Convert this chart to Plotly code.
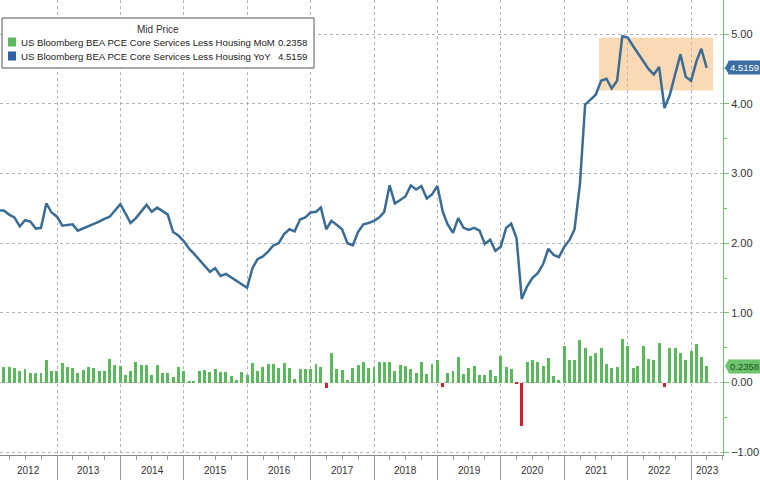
import plotly.graph_objects as go
import pandas as pd

# ---------------- data ----------------
months = pd.date_range("2012-01-01", periods=135, freq="MS") + pd.offsets.MonthEnd(0)

yoy = [
    2.47, 2.47, 2.41, 2.37, 2.24, 2.33, 2.31, 2.21, 2.22, 2.57, 2.44, 2.38,   # 2012
    2.25, 2.26, 2.27, 2.18, 2.21, 2.24, 2.28, 2.31, 2.35, 2.38, 2.47, 2.56,   # 2013
    2.42, 2.29, 2.36, 2.46, 2.55, 2.45, 2.51, 2.46, 2.41, 2.16, 2.11, 2.03,   # 2014
    1.92, 1.85, 1.76, 1.68, 1.59, 1.64, 1.53, 1.56, 1.51, 1.46, 1.41, 1.36,   # 2015
    1.64, 1.77, 1.81, 1.88, 1.97, 2.00, 2.13, 2.20, 2.17, 2.34, 2.37, 2.44,   # 2016
    2.45, 2.51, 2.20, 2.32, 2.26, 2.20, 2.00, 1.97, 2.16, 2.27, 2.29, 2.32,   # 2017
    2.37, 2.45, 2.83, 2.57, 2.62, 2.67, 2.83, 2.77, 2.82, 2.64, 2.70, 2.82,   # 2018
    2.45, 2.27, 2.15, 2.36, 2.22, 2.19, 2.22, 2.18, 1.99, 2.05, 1.89, 1.95,   # 2019
    2.22, 2.28, 2.07, 1.20, 1.38, 1.50, 1.57, 1.70, 1.92, 1.83, 1.80, 1.95,   # 2020
    2.05, 2.20, 2.85, 3.99, 4.06, 4.13, 4.33, 4.36, 4.22, 4.33, 4.97, 4.95,   # 2021
    4.83, 4.72, 4.61, 4.50, 4.42, 4.53, 3.94, 4.13, 4.42, 4.71, 4.39, 4.33,   # 2022
    4.61, 4.79, 4.5159,                                                       # 2023
]

mom = [
    0.40, 0.23, 0.22, 0.21, 0.16, 0.19, 0.13, 0.13, 0.14, 0.32, 0.16, 0.17,   # 2012
    0.28, 0.22, 0.21, 0.13, 0.18, 0.23, 0.21, 0.17, 0.16, 0.34, 0.25, 0.24,   # 2013
    0.11, 0.16, 0.29, 0.25, 0.25, 0.11, 0.25, 0.13, 0.13, 0.08, 0.23, 0.17,   # 2014
    0.01, 0.02, 0.17, 0.18, 0.15, 0.20, 0.15, 0.15, 0.10, 0.03, 0.15, 0.11,   # 2015
    0.28, 0.17, 0.23, 0.26, 0.26, 0.21, 0.28, 0.21, 0.05, 0.19, 0.19, 0.19,   # 2016
    0.26, 0.23, -0.08, 0.42, 0.19, 0.18, 0.04, 0.21, 0.25, 0.30, 0.21, 0.22,  # 2017
    0.30, 0.30, 0.29, 0.16, 0.25, 0.24, 0.20, 0.13, 0.30, 0.12, 0.27, 0.32,   # 2018
    -0.07, 0.14, 0.17, 0.37, 0.12, 0.21, 0.24, 0.11, 0.11, 0.18, 0.09, 0.38,  # 2019
    0.22, 0.19, -0.02, -0.62, 0.29, 0.33, 0.29, 0.24, 0.35, 0.09, 0.03, 0.53, # 2020
    0.33, 0.33, 0.61, 0.49, 0.38, 0.43, 0.49, 0.26, 0.21, 0.22, 0.63, 0.53,   # 2021
    0.21, 0.24, 0.52, 0.34, 0.32, 0.57, -0.07, 0.49, 0.49, 0.42, 0.33, 0.45,  # 2022
    0.56, 0.36, 0.2358,                                                       # 2023
]

year_labels = [str(y) for y in range(2012, 2024)]

legend_title = "Mid Price"
mom_name = "US Bloomberg BEA PCE Core Services Less Housing MoM"
yoy_name = "US Bloomberg BEA PCE Core Services Less Housing YoY"

highlight_x = ["2021-07-19", "2023-05-07"]
highlight_y = [4.19, 4.95]

x_range = ["2012-02-07", "2023-07-03"]
y_range = [-1.04, 5.49]

# ---------------- styles ----------------
GREEN = "#5cb85c"
RED = "#d0202a"
BLUE = "#3b6c95"
AXIS_GREEN = "#72c072"
GRID = "#b5b5b5"
FONT = "Liberation Sans"

bar_colors = [GREEN if v >= 0 else RED for v in mom]

# year label positions: middle of the visible part of each year
r0, r1 = pd.Timestamp(x_range[0]), pd.Timestamp(x_range[1])
label_pos = []
for y in year_labels:
    a = max(pd.Timestamp(f"{y}-01-01"), r0)
    b = min(pd.Timestamp(f"{int(y) + 1}-01-01"), r1)
    label_pos.append(a + (b - a) / 2)

fig = go.Figure()
fig.add_trace(go.Bar(
    x=months, y=mom, marker=dict(color=bar_colors, line=dict(width=0)),
    width=17 * 86400000, name=mom_name, showlegend=False,
))
fig.add_trace(go.Scatter(
    x=months, y=yoy, mode="lines", line=dict(color=BLUE, width=2.5),
    name=yoy_name, showlegend=False,
))

fig.add_shape(type="rect", xref="x", yref="y",
              x0=highlight_x[0], x1=highlight_x[1], y0=highlight_y[0], y1=highlight_y[1],
              fillcolor="rgba(248,186,120,0.55)", line=dict(width=0), layer="below")

# year labels under the axis
for pos, lab in zip(label_pos, year_labels):
    fig.add_annotation(xref="x", yref="paper", x=pos, y=0, yshift=-15, text=lab,
                       showarrow=False, xanchor="center", yanchor="middle",
                       font=dict(family=FONT, size=10, color="#333333"))

# plot-area pixel helpers for decorations
PW, PH = 723.0, 455.0
def px(x):
    return x / PW
def py(y):
    return 1 - y / PH

# custom legend
fig.add_shape(type="rect", xref="paper", yref="paper",
              x0=px(2), x1=px(314), y0=py(68), y1=py(18),
              fillcolor="white", line=dict(color="#555555", width=1), layer="above")
fig.add_annotation(xref="paper", yref="paper", x=px(158), y=py(30), text=legend_title,
                   showarrow=False, xanchor="center", yanchor="middle",
                   font=dict(family=FONT, size=10, color="#333333"))
for row, (name, val, col) in enumerate([(mom_name, mom[-1], GREEN), (yoy_name, yoy[-1], "#2f63a8")]):
    yc = 42 + row * 14
    fig.add_shape(type="rect", xref="paper", yref="paper",
                  x0=px(8), x1=px(16), y0=py(yc + 4.5), y1=py(yc - 4.5),
                  fillcolor=col, line=dict(width=0), layer="above")
    fig.add_annotation(xref="paper", yref="paper", x=px(19), y=py(yc), text=name,
                       showarrow=False, xanchor="left", yanchor="middle",
                       font=dict(family=FONT, size=9.6, color="#222222"))
    fig.add_annotation(xref="paper", yref="paper", x=px(309), y=py(yc), text=f"{val:.4f}",
                       showarrow=False, xanchor="right", yanchor="middle",
                       font=dict(family=FONT, size=9.6, color="#222222"))

# value tags on right axis (with a small pointer)
yspan = y_range[1] - y_range[0]
for val, bg, fg in [(yoy[-1], "#3a6ea5", "white"), (mom[-1], "#6cc46c", "#1f4f1f")]:
    h = 7.0 / PH * yspan
    fig.add_shape(type="path", xref="paper", yref="y",
                  path=f"M {1 + px(2)},{val} L {1 + px(6)},{val + h} L {1 + px(6)},{val - h} Z",
                  fillcolor=bg, line=dict(width=0), layer="above")
    fig.add_annotation(xref="paper", yref="y", x=1, y=val, text=f"{val:.4f}",
                       showarrow=False, xanchor="left", yanchor="middle", xshift=5,
                       bgcolor=bg, borderpad=1,
                       font=dict(family=FONT, size=9.5, color=fg))

fig.update_layout(
    width=760, height=480,
    margin=dict(l=0, r=37, t=0, b=25, autoexpand=False),
    paper_bgcolor="white", plot_bgcolor="white",
    bargap=0, showlegend=False,
    font=dict(family=FONT, size=11, color="#333333"),
    xaxis=dict(
        type="date", range=x_range, automargin=False,
        dtick="M12", tick0="2012-01-01", showticklabels=False,
        ticks="outside", ticklen=25, tickcolor="#9a9a9a", tickwidth=1,
        showgrid=True, gridcolor=GRID, griddash="dot", gridwidth=1,
        showline=True, linecolor="#8a8a8a", linewidth=1,
        minor=dict(dtick="M3", ticks="outside", ticklen=4, tickcolor="#9a9a9a", showgrid=False),
        zeroline=False,
    ),
    yaxis=dict(
        side="right", range=y_range, dtick=1, tick0=0, tickformat=".2f", automargin=False,
        ticks="outside", ticklen=5, tickcolor=AXIS_GREEN,
        showgrid=True, gridcolor=GRID, griddash="dot", gridwidth=1,
        showline=True, linecolor=AXIS_GREEN, linewidth=1,
        minor=dict(dtick=0.5, ticks="outside", ticklen=3, tickcolor=AXIS_GREEN, showgrid=False),
        tickfont=dict(family=FONT, size=11, color="#333333"),
        zeroline=False,
    ),
)

fig.write_html("out.html", config={"displayModeBar": False},
               post_script="document.body.style.margin='0';document.body.style.overflow='hidden';")
